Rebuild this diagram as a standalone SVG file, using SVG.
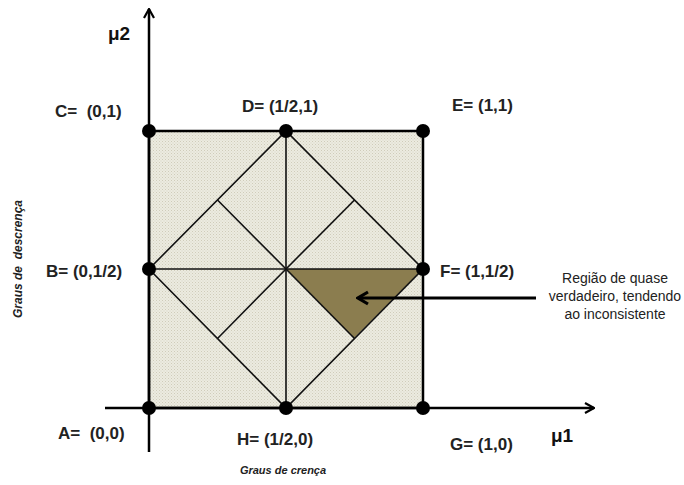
<svg xmlns="http://www.w3.org/2000/svg" width="684" height="485" viewBox="0 0 684 485">
<defs>
<pattern id="dots" width="3" height="3" patternUnits="userSpaceOnUse">
<rect width="3" height="3" fill="#ecebe0"/>
<rect width="1" height="1" fill="#cfccba"/>
<rect x="1.5" y="1.5" width="1" height="1" fill="#d6d4c4"/>
</pattern>
<marker id="chev" viewBox="0 0 12 12" refX="11" refY="6" markerWidth="12" markerHeight="12" markerUnits="userSpaceOnUse" orient="auto">
<path d="M2,1 L11,6 L2,11" fill="none" stroke="#000" stroke-width="2.2"/>
</marker>
<marker id="chev2" viewBox="0 0 16 16" refX="14" refY="8" markerWidth="16" markerHeight="16" markerUnits="userSpaceOnUse" orient="auto">
<path d="M4,2 L14,8 L4,14" fill="none" stroke="#000" stroke-width="3.2"/>
</marker>
</defs>
<style>
.lbl{font-family:"Liberation Sans",Arial,sans-serif;font-weight:bold;font-size:17px;fill:#222}
.mu{font-family:"Liberation Sans",Arial,sans-serif;font-weight:bold;font-size:19px;fill:#111}
.ax{font-family:"Liberation Sans",Arial,sans-serif;font-weight:bold;font-style:italic;font-size:11px;fill:#222}
.note{font-family:"Liberation Sans",Arial,sans-serif;font-size:14px;fill:#222}
.thin{stroke:#111;stroke-width:1.6;fill:none}
.pt{fill:#000}
</style>
<g id="square">
<rect x="149" y="131" width="274" height="277" fill="url(#dots)"/>
</g>
<g id="region">
<polygon points="286,269 423,269 354,338" fill="#8b7d4f"/>
</g>
<g id="connectors">
<polygon points="149,269 286,131 423,269 286,408" class="thin"/>
<line x1="286" y1="131" x2="286" y2="408" class="thin"/>
<line x1="149" y1="269" x2="423" y2="269" class="thin"/>
<line x1="286" y1="269" x2="217.5" y2="200" class="thin"/>
<line x1="286" y1="269" x2="354.5" y2="200" class="thin"/>
<line x1="286" y1="269" x2="217.5" y2="338.5" class="thin"/>
<line x1="286" y1="269" x2="354.5" y2="338.5" class="thin"/>
<rect x="149" y="131" width="274" height="277" fill="none" stroke="#000" stroke-width="2.5"/>
<line x1="149" y1="452" x2="149" y2="9" stroke="#000" stroke-width="2.5" marker-end="url(#chev)"/>
<line x1="105" y1="408" x2="594" y2="408" stroke="#000" stroke-width="2.5" marker-end="url(#chev)"/>
<line x1="536" y1="298" x2="358" y2="298" stroke="#000" stroke-width="3.2" marker-end="url(#chev2)"/>
</g>
<g id="A"><circle cx="149" cy="408" r="7" class="pt"/><text x="58" y="439" class="lbl" xml:space="preserve">A=  (0,0)</text></g>
<g id="B"><circle cx="149" cy="269" r="7" class="pt"/><text x="46" y="277" class="lbl">B= (0,1/2)</text></g>
<g id="C"><circle cx="149" cy="131" r="7" class="pt"/><text x="55" y="117" class="lbl" xml:space="preserve">C=  (0,1)</text></g>
<g id="D"><circle cx="286" cy="131" r="7" class="pt"/><text x="242" y="112" class="lbl">D= (1/2,1)</text></g>
<g id="E"><circle cx="423" cy="131" r="7" class="pt"/><text x="452" y="111" class="lbl">E= (1,1)</text></g>
<g id="F"><circle cx="423" cy="269" r="7" class="pt"/><text x="440" y="277" class="lbl">F= (1,1/2)</text></g>
<g id="G"><circle cx="423" cy="408" r="7" class="pt"/><text x="450" y="450" class="lbl">G= (1,0)</text></g>
<g id="H"><circle cx="286" cy="408" r="7" class="pt"/><text x="237" y="445" class="lbl">H= (1/2,0)</text></g>
<g id="labels">
<text x="108" y="40" class="mu">μ2</text>
<text x="551" y="442" class="mu">μ1</text>
<text x="283" y="474" class="ax" text-anchor="middle">Graus de crença</text>
<text transform="translate(22,259) rotate(-90)" class="ax" text-anchor="middle" style="font-size:12px" xml:space="preserve">Graus de  descrença</text>
<text x="615" y="283" class="note" text-anchor="middle">Região de quase</text>
<text x="615" y="301" class="note" text-anchor="middle">verdadeiro, tendendo</text>
<text x="615" y="319" class="note" text-anchor="middle">ao inconsistente</text>
</g>
</svg>
